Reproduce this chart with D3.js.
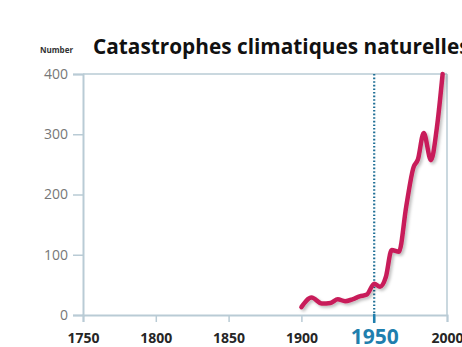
<!DOCTYPE html>
<html>
<head>
<meta charset="utf-8">
<script src="https://cdn.jsdelivr.net/npm/d3@7"></script>
<style>
  html, body { margin: 0; padding: 0; background: #fff; overflow: hidden; }
  svg { display: block; }
</style>
</head>
<body>
<svg id="chart" width="462" height="347"></svg>
<script>
// Number of natural climate disasters per year
const years  = [1900, 1907, 1914, 1920, 1925, 1930, 1935, 1940, 1945, 1950, 1954, 1958, 1962, 1967, 1972, 1977, 1980, 1984, 1989, 1993, 1997];
const counts = [13, 29, 19, 20, 26, 23, 26, 31, 34, 52, 47, 63, 108, 105, 180, 245, 258, 302, 257, 310, 400];
const xTicks = [1750, 1800, 1850, 1900, 1950, 2000];
const yTicks = [0, 100, 200, 300, 400];
const markerYear = 1950;

(function () {
const svg = d3.select("#chart");
const pLeft = 83, pRight = 447, pTop = 74, pBottom = 315;

const x = d3.scaleLinear().domain([1750, 2000]).range([pLeft, pRight]);
const y = d3.scaleLinear().domain([0, 400]).range([pBottom, pTop]);

const frame = "#b9cbd5";

// drop shadow for the data line
const defs = svg.append("defs");
const f = defs.append("filter").attr("id", "shadow").attr("x", "-20%").attr("y", "-20%").attr("width", "140%").attr("height", "140%");
f.append("feDropShadow").attr("dx", 2).attr("dy", 2).attr("stdDeviation", 1.5).attr("flood-color", "#000").attr("flood-opacity", 0.25);

// frame: top and right edges
svg.append("line").attr("x1", pLeft).attr("x2", pRight).attr("y1", pTop).attr("y2", pTop)
  .attr("stroke", frame).attr("stroke-width", 1.5);
svg.append("line").attr("x1", pRight).attr("x2", pRight).attr("y1", pTop).attr("y2", pBottom)
  .attr("stroke", frame).attr("stroke-width", 1.5);

// y axis
const yAxis = svg.append("g").attr("transform", `translate(${pLeft},0)`)
  .call(d3.axisLeft(y).tickValues(yTicks).tickSize(10).tickPadding(5));
yAxis.select(".domain").attr("stroke", frame).attr("stroke-width", 2);
yAxis.selectAll(".tick line").attr("stroke", frame).attr("stroke-width", 1.5);
yAxis.selectAll(".tick text").attr("fill", "#777")
  .style("font-family", "'Open Sans', sans-serif").style("font-size", "14px");

// x axis
const xAxis = svg.append("g").attr("transform", `translate(0,${pBottom})`)
  .call(d3.axisBottom(x).tickValues(xTicks).tickFormat(d3.format("d")).tickSize(7).tickPadding(11));
xAxis.select(".domain").attr("stroke", frame).attr("stroke-width", 2);
xAxis.selectAll(".tick line").attr("stroke", frame).attr("stroke-width", 1.5);
xAxis.selectAll(".tick text")
  .attr("fill", d => d === markerYear ? "#1f7fae" : "#262626")
  .attr("dy", d => d === markerYear ? "0.5em" : "0.71em")
  .style("font-family", "'Open Sans', sans-serif")
  .style("font-weight", "bold")
  .style("font-size", d => d === markerYear ? "21px" : "14px");

// 1950 marker
svg.append("line").attr("x1", x(markerYear)).attr("x2", x(markerYear))
  .attr("y1", pTop).attr("y2", pBottom)
  .attr("stroke", "#1f6f96").attr("stroke-width", 2.2)
  .attr("stroke-dasharray", "1.6,2");
svg.append("line").attr("x1", x(markerYear)).attr("x2", x(markerYear))
  .attr("y1", pBottom - 1).attr("y2", pBottom + 8)
  .attr("stroke", "#1f7fae").attr("stroke-width", 2.5);

// data line
const line = d3.line().x((d, i) => x(years[i])).y(d => y(d)).curve(d3.curveMonotoneX);
svg.append("path").datum(counts)
  .attr("d", line)
  .attr("fill", "none")
  .attr("stroke", "#c81f5a")
  .attr("stroke-width", 4.5)
  .attr("stroke-linejoin", "round")
  .attr("stroke-linecap", "round")
  .attr("filter", "url(#shadow)");

// titles
svg.append("text").attr("x", 40).attr("y", 53)
  .text("Number")
  .style("font-family", "'Open Sans', sans-serif").style("font-size", "8px").style("font-weight", "bold")
  .attr("fill", "#333");
svg.append("text").attr("x", 93).attr("y", 54)
  .text("Catastrophes climatiques naturelles")
  .style("font-family", "'Open Sans', sans-serif").style("font-size", "20.8px").style("font-weight", "bold")
  .attr("fill", "#111");
})();
</script>
</body>
</html>
